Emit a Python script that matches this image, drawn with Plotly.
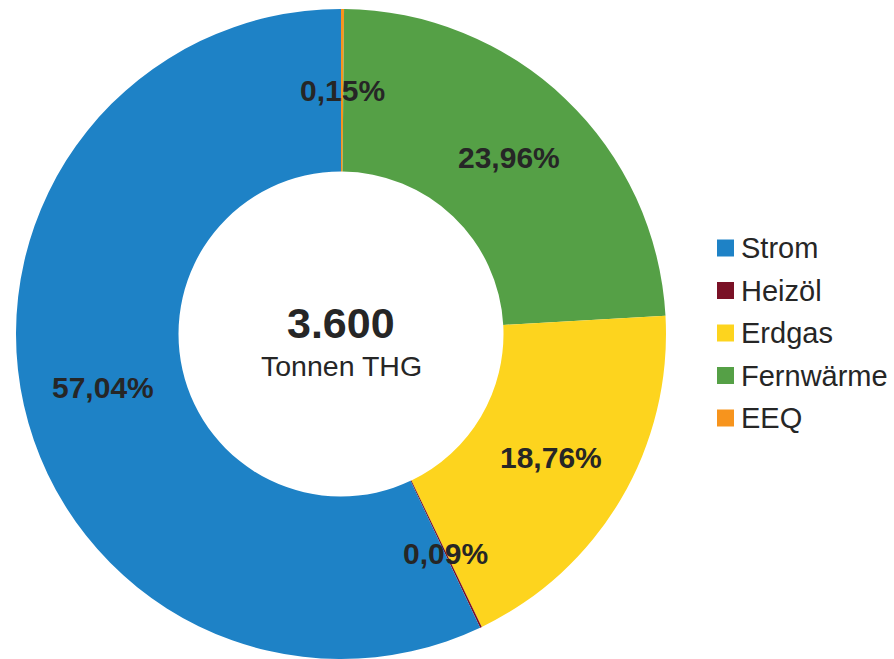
import math
import plotly.graph_objects as go

# Treibhausgas-Anteile nach Energieträger
categories = ["Strom", "Heizöl", "Erdgas", "Fernwärme", "EEQ"]
shares = [57.04, 0.09, 18.76, 23.96, 0.15]
colors = ["#1E82C6", "#7A1126", "#FDD41E", "#55A046", "#F7941D"]
total_label = "3.600"
unit_label = "Tonnen THG"

FONT = "Liberation Sans, Arial, sans-serif"
TEXT_COLOR = "#262626"

W, H = 894, 659
MT = 9
plot_h = H - MT
r_px = plot_h / 2
cx_px = 341
cy_px = MT + r_px
hole = 0.5


def paper(px, py):
    return px / W, 1 - (py - MT) / plot_h


def fmt_pct(v):
    return f"{v:.2f}%".replace(".", ",")


# ring: legend order runs counterclockwise from 12 o'clock,
# so the trace gets the reversed order drawn clockwise
fig = go.Figure(
    go.Pie(
        labels=categories[::-1],
        values=shares[::-1],
        marker=dict(colors=colors[::-1], line=dict(width=0)),
        hole=hole,
        sort=False,
        direction="clockwise",
        rotation=0,
        textinfo="none",
        hoverinfo="label+percent",
        showlegend=False,
        domain=dict(x=[(cx_px - r_px) / W, (cx_px + r_px) / W], y=[0, 1]),
    )
)

annotations = []

# percentage labels at the middle of each ring segment
total = sum(shares)
cum = 0.0
r_mid = r_px * (1 + hole) / 2
for v in shares:
    frac = (cum + v / 2) / total
    cum += v
    theta = 2 * math.pi * frac
    px = cx_px - r_mid * math.sin(theta)
    py = cy_px - r_mid * math.cos(theta)
    x, y = paper(px, py)
    annotations.append(dict(
        x=x, y=y, xref="paper", yref="paper", showarrow=False,
        text=f"<b>{fmt_pct(v)}</b>",
        font=dict(family=FONT, size=30, color=TEXT_COLOR),
        xanchor="center", yanchor="middle",
    ))

# centre text
x, y = paper(cx_px, 323)
annotations.append(dict(
    x=x, y=y, xref="paper", yref="paper", showarrow=False,
    text=f"<b>{total_label}</b>",
    font=dict(family=FONT, size=43, color=TEXT_COLOR),
    xanchor="center", yanchor="middle",
))
x, y = paper(cx_px, 366)
annotations.append(dict(
    x=x, y=y, xref="paper", yref="paper", showarrow=False,
    text=unit_label,
    font=dict(family=FONT, size=28.5, color=TEXT_COLOR),
    xanchor="center", yanchor="middle",
))

# legend
shapes = []
leg_x0, leg_sq, leg_text_x = 717, 17, 739
leg_y0, leg_step = 248, 42.5
for i, (name, col) in enumerate(zip(categories, colors)):
    yc = leg_y0 + i * leg_step
    xa, ya = paper(leg_x0, yc - leg_sq / 2)
    xb, yb = paper(leg_x0 + leg_sq, yc + leg_sq / 2)
    shapes.append(dict(
        type="rect", xref="paper", yref="paper",
        x0=xa, x1=xb, y0=yb, y1=ya,
        fillcolor=col, line=dict(width=0),
    ))
    tx, ty = paper(leg_text_x, yc)
    annotations.append(dict(
        x=tx, y=ty, xref="paper", yref="paper", showarrow=False,
        text=name,
        font=dict(family=FONT, size=29, color=TEXT_COLOR),
        xanchor="left", yanchor="middle",
    ))

fig.update_layout(
    width=W, height=H,
    margin=dict(l=0, r=0, t=MT, b=0),
    paper_bgcolor="white",
    plot_bgcolor="white",
    annotations=annotations,
    shapes=shapes,
    showlegend=False,
)

fig.write_html("out.html")
